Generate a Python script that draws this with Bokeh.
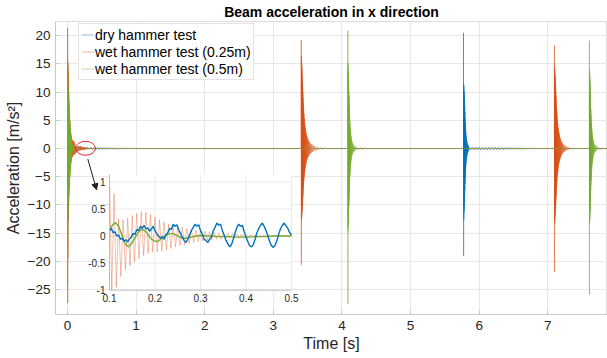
import numpy as np
from bokeh.plotting import figure
from bokeh.models import Range1d, Legend, LegendItem, Arrow, NormalHead, FixedTicker
from bokeh.core.properties import value
from bokeh.embed import file_html
from bokeh.resources import INLINE

# ---------------- data ----------------
series_names = ["dry hammer test", "wet hammer test (0.25m)", "wet hammer test (0.5m)"]
series_colors = ["#0072BD", "#D95319", "#77AC30"]

x_ticks = [0, 1, 2, 3, 4, 5, 6, 7, 8]
y_ticks = [-25, -20, -15, -10, -5, 0, 5, 10, 15, 20]
inset_x_ticks = [0.1, 0.2, 0.3, 0.4, 0.5]
inset_x_labels = ["0.1", "0.2", "0.3", "0.4", "0.5"]
inset_y_ticks = [-1, -0.5, 0, 0.5, 1]
inset_y_labels = ["-1", "-0.5", "0", "0.5", "1"]

# dry hammer test (blue): (time, value)
dry_start = [(0.000, 0.0), (0.005, 0.12), (0.029, -0.10), (0.053, 0.12), (0.077, -0.08)]
dry_inset = [(0.100, 0.10), (0.104, 0.14), (0.108, 0.06), (0.112, 0.08), (0.116, 0.00), (0.120, 0.02),
             (0.124, -0.06), (0.128, -0.04), (0.132, -0.10), (0.136, -0.07), (0.140, -0.11), (0.144, -0.05),
             (0.148, -0.02), (0.152, 0.05), (0.156, 0.03), (0.160, 0.12), (0.164, 0.10), (0.168, 0.18),
             (0.172, 0.14), (0.176, 0.20), (0.180, 0.13), (0.184, 0.15), (0.188, 0.09), (0.192, 0.13),
             (0.196, 0.18), (0.200, 0.10), (0.204, 0.04), (0.208, 0.00), (0.212, -0.04), (0.216, -0.01),
             (0.220, -0.06), (0.224, 0.02), (0.228, 0.06), (0.232, 0.14), (0.236, 0.12), (0.240, 0.22),
             (0.244, 0.18), (0.248, 0.21), (0.252, 0.12), (0.256, 0.05), (0.260, -0.02), (0.264, -0.08),
             (0.268, -0.12), (0.272, -0.06), (0.276, 0.02), (0.280, 0.10), (0.284, 0.16), (0.288, 0.22),
             (0.292, 0.18), (0.296, 0.21), (0.300, 0.10), (0.304, 0.04), (0.308, -0.06), (0.312, -0.08),
             (0.316, -0.12), (0.320, -0.06), (0.324, -0.02), (0.328, 0.10), (0.332, 0.16), (0.336, 0.24),
             (0.340, 0.20), (0.344, 0.22), (0.348, 0.10), (0.352, 0.02), (0.356, -0.08), (0.360, -0.14),
             (0.364, -0.20), (0.368, -0.16), (0.372, -0.06), (0.376, 0.06), (0.380, 0.16), (0.384, 0.22),
             (0.388, 0.18), (0.392, 0.20), (0.396, 0.08), (0.400, -0.02), (0.404, -0.10), (0.408, -0.18),
             (0.412, -0.20), (0.416, -0.16), (0.420, -0.06), (0.424, 0.06), (0.428, 0.14), (0.432, 0.20),
             (0.436, 0.24), (0.440, 0.18), (0.444, 0.10), (0.448, 0.00), (0.452, -0.10), (0.456, -0.18),
             (0.460, -0.21), (0.464, -0.17), (0.468, -0.08), (0.472, 0.04), (0.476, 0.14), (0.480, 0.20),
             (0.484, 0.24), (0.488, 0.19), (0.492, 0.14), (0.496, 0.06), (0.500, 0.02)]
dry_after = [(0.508, -0.18), (0.532, 0.20), (0.556, -0.18), (0.580, 0.19), (0.604, -0.17), (0.628, 0.18),
             (0.652, -0.16), (0.676, 0.17), (0.700, -0.15), (0.724, 0.15), (0.748, -0.14), (0.772, 0.14),
             (0.796, -0.12), (0.820, 0.12), (0.844, -0.10), (0.868, 0.10), (0.892, -0.08), (0.916, 0.08),
             (0.940, -0.05), (0.964, 0.04), (1.000, 0.0)]
dry_spike = [(5.7700, 0.0), (5.7715, 20.5), (5.7730, -19.0), (5.7745, 11.4), (5.7760, -12.7), (5.7775, 11.0),
             (5.7790, -11.5), (5.7805, 10.2), (5.7820, -10.8), (5.7835, 9.5), (5.7850, -9.6), (5.7865, 8.6),
             (5.7880, -8.5), (5.7895, 7.5), (5.7910, -7.4), (5.7925, 6.5), (5.7940, -6.3), (5.7955, 5.4),
             (5.7970, -5.2), (5.7985, 4.5), (5.8000, -4.3), (5.8020, 3.6), (5.8040, -3.5), (5.8060, 2.9),
             (5.8080, -2.8), (5.8100, 2.3), (5.8120, -2.2), (5.8145, 1.8), (5.8170, -1.7), (5.8195, 1.4),
             (5.8220, -1.3), (5.8250, 1.1), (5.8280, -1.0), (5.8310, 0.8), (5.8340, -0.75), (5.8370, 0.6),
             (5.8400, -0.55), (5.8430, 0.45), (5.8460, -0.4)]
dry_ring = [(5.852, 0.30), (5.876, -0.25), (5.900, 0.28), (5.924, -0.26), (5.948, 0.27), (5.972, -0.25),
            (5.996, 0.27), (6.020, -0.26), (6.044, 0.26), (6.068, -0.25), (6.092, 0.26), (6.116, -0.24),
            (6.140, 0.25), (6.164, -0.24), (6.188, 0.25), (6.212, -0.23), (6.236, 0.24), (6.260, -0.23),
            (6.284, 0.23), (6.308, -0.22), (6.332, 0.22), (6.356, -0.21), (6.380, 0.21), (6.404, -0.20),
            (6.428, 0.20), (6.452, -0.19), (6.476, 0.19), (6.500, -0.18), (6.524, 0.18), (6.548, -0.17),
            (6.572, 0.17), (6.596, -0.16), (6.620, 0.16), (6.644, -0.15), (6.668, 0.14), (6.692, -0.13),
            (6.716, 0.12), (6.740, -0.11), (6.764, 0.10), (6.788, -0.08), (6.812, 0.07), (6.836, -0.05),
            (6.860, 0.04), (6.900, 0.0), (7.870, 0.0)]

# wet hammer test 0.25 m (orange)
w25_spike0 = [(0.0000, 0.0), (0.0015, 21.4), (0.0030, -27.4), (0.0045, 15.5), (0.0060, -19.5), (0.0075, 14.8),
              (0.0090, -13.0), (0.0105, 13.6), (0.0120, -12.2), (0.0135, 12.4), (0.0150, -11.0), (0.0165, 11.0),
              (0.0180, -9.8), (0.0195, 9.6), (0.0210, -8.5), (0.0225, 8.3), (0.0240, -7.3), (0.0260, 7.0),
              (0.0280, -6.2), (0.0300, 5.8), (0.0320, -5.1), (0.0340, 4.8), (0.0360, -4.2), (0.0385, 3.9),
              (0.0410, -3.5), (0.0435, 3.2), (0.0460, -2.9), (0.0485, 2.7), (0.0510, -2.4), (0.0540, 2.2),
              (0.0570, -2.0), (0.0600, 1.9), (0.0630, -1.7), (0.0660, 1.6), (0.0690, -1.5), (0.0720, 1.45),
              (0.0750, -1.35), (0.0780, 1.3), (0.0810, -1.25), (0.0845, 1.2), (0.0880, -1.15), (0.0915, 1.2),
              (0.0950, -1.1)]
w25_inset = [(0.100, 1.25), (0.105, -1.00), (0.110, 0.78), (0.115, -0.95), (0.120, 0.32), (0.125, -0.75),
             (0.130, 0.30), (0.135, -0.62), (0.140, 0.33), (0.145, -0.55), (0.150, 0.38), (0.155, -0.48),
             (0.160, 0.42), (0.165, -0.42), (0.170, 0.45), (0.175, -0.36), (0.180, 0.44), (0.185, -0.32),
             (0.190, 0.40), (0.195, -0.30), (0.200, 0.35), (0.205, -0.29), (0.210, 0.30), (0.215, -0.28),
             (0.220, 0.26), (0.225, -0.26), (0.230, 0.22), (0.235, -0.23), (0.240, 0.20), (0.245, -0.20),
             (0.250, 0.18), (0.255, -0.18), (0.260, 0.16), (0.265, -0.16), (0.270, 0.14), (0.275, -0.14),
             (0.280, 0.12), (0.285, -0.12), (0.290, 0.11), (0.295, -0.10), (0.300, 0.10), (0.305, -0.09),
             (0.310, 0.09), (0.315, -0.08), (0.320, 0.08), (0.325, -0.07), (0.330, 0.07), (0.335, -0.06),
             (0.340, 0.06), (0.345, -0.06), (0.350, 0.05), (0.355, -0.05), (0.360, 0.05), (0.365, -0.04),
             (0.370, 0.05), (0.375, -0.04), (0.380, 0.04), (0.385, -0.04), (0.390, 0.04), (0.395, -0.03),
             (0.400, 0.03), (0.405, -0.03), (0.410, 0.03), (0.415, -0.03), (0.420, 0.03), (0.425, -0.025),
             (0.430, 0.025), (0.435, -0.02), (0.440, 0.02), (0.445, -0.02), (0.450, 0.02), (0.455, -0.015),
             (0.460, 0.015), (0.465, -0.015), (0.470, 0.015), (0.475, -0.01), (0.480, 0.01), (0.485, -0.01),
             (0.490, 0.01), (0.495, -0.01), (0.500, 0.01)]
w25_tail = [(0.520, -0.01), (0.560, 0.01), (0.600, 0.0)]
w25_spike1 = [(3.4050, 0.0), (3.4065, 19.2), (3.4080, -20.6), (3.4095, 16.4), (3.4110, -12.7), (3.4125, 15.6),
              (3.4140, -12.2), (3.4155, 14.8), (3.4170, -11.6), (3.4185, 14.0), (3.4200, -11.0), (3.4215, 13.0),
              (3.4230, -10.3), (3.4245, 12.0), (3.4260, -9.6), (3.4275, 11.0), (3.4290, -8.9), (3.4305, 10.0),
              (3.4320, -8.2), (3.4340, 9.0), (3.4360, -7.4), (3.4380, 8.0), (3.4400, -6.6), (3.4420, 7.1),
              (3.4440, -5.9), (3.4465, 6.2), (3.4490, -5.2), (3.4515, 5.4), (3.4540, -4.6), (3.4565, 4.7),
              (3.4590, -4.0), (3.4620, 4.1), (3.4650, -3.5), (3.4680, 3.6), (3.4710, -3.1), (3.4740, 3.1),
              (3.4770, -2.7), (3.4805, 2.7), (3.4840, -2.3), (3.4875, 2.3), (3.4910, -2.0), (3.4950, 2.0),
              (3.4990, -1.7), (3.5030, 1.7), (3.5070, -1.5), (3.5120, 1.4), (3.5170, -1.25), (3.5220, 1.2),
              (3.5270, -1.05), (3.5330, 1.0), (3.5390, -0.9), (3.5460, 0.85), (3.5530, -0.75), (3.5610, 0.7),
              (3.5690, -0.6), (3.5800, 0.55), (3.5910, -0.48), (3.6050, 0.42), (3.6200, -0.36), (3.6400, 0.3),
              (3.6600, -0.25), (3.6850, 0.18), (3.7100, -0.12), (3.7400, 0.06), (3.7700, 0.0)]
w25_spike2 = [(7.0950, 0.0), (7.0965, 18.3), (7.0980, -21.8), (7.0995, 14.6), (7.1010, -13.2), (7.1025, 14.0),
              (7.1040, -12.6), (7.1055, 13.4), (7.1070, -12.0), (7.1085, 12.6), (7.1100, -11.3), (7.1115, 11.8),
              (7.1130, -10.6), (7.1145, 11.0), (7.1160, -9.8), (7.1175, 10.1), (7.1190, -9.0), (7.1205, 9.2),
              (7.1220, -8.2), (7.1240, 8.2), (7.1260, -7.3), (7.1280, 7.3), (7.1300, -6.5), (7.1320, 6.5),
              (7.1340, -5.8), (7.1365, 5.7), (7.1390, -5.0), (7.1415, 5.0), (7.1440, -4.4), (7.1465, 4.3),
              (7.1490, -3.8), (7.1520, 3.7), (7.1550, -3.3), (7.1580, 3.2), (7.1610, -2.8), (7.1640, 2.8),
              (7.1670, -2.4), (7.1705, 2.4), (7.1740, -2.1), (7.1775, 2.0), (7.1810, -1.8), (7.1850, 1.7),
              (7.1890, -1.5), (7.1930, 1.4), (7.1970, -1.25), (7.2020, 1.15), (7.2070, -1.0), (7.2120, 0.95),
              (7.2170, -0.85), (7.2230, 0.78), (7.2290, -0.7), (7.2360, 0.62), (7.2430, -0.55), (7.2510, 0.48),
              (7.2590, -0.42), (7.2700, 0.36), (7.2810, -0.3), (7.2950, 0.25), (7.3100, -0.2), (7.3300, 0.16),
              (7.3500, -0.12), (7.3750, 0.08), (7.4000, -0.05), (7.4300, 0.02), (7.4600, 0.0), (7.8700, 0.0)]

# wet hammer test 0.5 m (green)
w50_spike0 = [(0.0000, 0.0), (0.0010, 20.3), (0.0020, -24.0), (0.0030, 15.0), (0.0040, -16.5), (0.0050, 12.0),
              (0.0060, -12.5), (0.0070, 10.5), (0.0080, -10.8), (0.0090, 9.6), (0.0100, -9.8), (0.0110, 9.2),
              (0.0120, -9.0), (0.0130, 8.8), (0.0140, -8.5), (0.0150, 8.4), (0.0160, -8.0), (0.0170, 8.0),
              (0.0180, -7.6), (0.0190, 7.5), (0.0200, -7.2), (0.0215, 7.0), (0.0230, -6.8), (0.0245, 6.5),
              (0.0260, -6.3), (0.0275, 6.0), (0.0290, -5.8), (0.0305, 5.6), (0.0320, -5.4), (0.0335, 5.1),
              (0.0350, -4.9), (0.0365, 4.6), (0.0380, -4.4), (0.0395, 4.1), (0.0410, -3.9), (0.0425, 3.6),
              (0.0440, -3.4), (0.0455, 3.1), (0.0470, -2.9), (0.0485, 2.6), (0.0500, -2.4), (0.0520, 2.1),
              (0.0540, -1.9), (0.0560, 1.7), (0.0580, -1.5), (0.0600, 1.3), (0.0620, -1.1), (0.0645, 0.95),
              (0.0670, -0.8), (0.0695, 0.7), (0.0720, -0.55), (0.0750, 0.5), (0.0780, -0.35), (0.0810, 0.35),
              (0.0840, -0.2), (0.0870, 0.25), (0.0900, -0.1), (0.0930, 0.18), (0.0960, 0.05)]
w50_inset = [(0.100, 0.10), (0.106, 0.20), (0.113, 0.25), (0.120, 0.18), (0.128, 0.00), (0.135, -0.15),
             (0.142, -0.20), (0.150, -0.12), (0.158, 0.00), (0.166, 0.10), (0.174, 0.12), (0.182, 0.06),
             (0.190, -0.04), (0.198, -0.09), (0.206, -0.10), (0.214, -0.05), (0.222, 0.01), (0.230, 0.04),
             (0.238, 0.05), (0.246, 0.02), (0.254, -0.02), (0.262, -0.04), (0.270, -0.04), (0.280, -0.02),
             (0.290, 0.00), (0.300, 0.01), (0.320, 0.00), (0.340, -0.01), (0.360, -0.01), (0.380, -0.02),
             (0.400, -0.02), (0.420, -0.01), (0.440, -0.01), (0.460, 0.00), (0.480, 0.00), (0.500, 0.00)]
w50_spike1 = [(4.0850, 0.0), (4.0860, 20.9), (4.0870, -27.5), (4.0880, 15.2), (4.0890, -14.6), (4.0900, 14.4),
              (4.0910, -14.0), (4.0920, 13.6), (4.0930, -13.2), (4.0940, 12.8), (4.0950, -12.4), (4.0960, 12.0),
              (4.0970, -11.6), (4.0980, 11.1), (4.0990, -10.7), (4.1000, 10.2), (4.1010, -9.8), (4.1020, 9.3),
              (4.1030, -8.9), (4.1045, 8.3), (4.1060, -7.9), (4.1075, 7.3), (4.1090, -6.9), (4.1105, 6.3),
              (4.1120, -5.9), (4.1140, 5.3), (4.1160, -4.9), (4.1180, 4.4), (4.1200, -4.0), (4.1225, 3.6),
              (4.1250, -3.2), (4.1275, 2.9), (4.1300, -2.6), (4.1330, 2.3), (4.1360, -2.0), (4.1390, 1.8),
              (4.1420, -1.55), (4.1460, 1.35), (4.1500, -1.15), (4.1540, 1.0), (4.1580, -0.85), (4.1630, 0.75),
              (4.1680, -0.62), (4.1740, 0.55), (4.1800, -0.45), (4.1870, 0.42), (4.1950, -0.38), (4.2100, 0.3),
              (4.2400, -0.26), (4.2700, 0.2), (4.3000, -0.15), (4.3300, 0.1), (4.3600, -0.06), (4.3900, 0.03),
              (4.4200, 0.0)]
w50_spike2 = [(7.6050, 0.0), (7.6060, 19.1), (7.6070, -25.9), (7.6080, 14.0), (7.6090, -13.4), (7.6100, 13.4),
              (7.6110, -12.9), (7.6120, 12.8), (7.6130, -12.3), (7.6140, 12.1), (7.6150, -11.6), (7.6160, 11.3),
              (7.6170, -10.8), (7.6180, 10.5), (7.6190, -10.0), (7.6200, 9.6), (7.6210, -9.2), (7.6220, 8.7),
              (7.6230, -8.3), (7.6245, 7.8), (7.6260, -7.4), (7.6275, 6.9), (7.6290, -6.5), (7.6305, 6.0),
              (7.6320, -5.6), (7.6340, 5.1), (7.6360, -4.7), (7.6380, 4.3), (7.6400, -3.9), (7.6425, 3.5),
              (7.6450, -3.1), (7.6475, 2.8), (7.6500, -2.5), (7.6530, 2.2), (7.6560, -1.95), (7.6590, 1.7),
              (7.6620, -1.5), (7.6660, 1.3), (7.6700, -1.1), (7.6740, 0.95), (7.6780, -0.82), (7.6830, 0.72),
              (7.6880, -0.6), (7.6940, 0.52), (7.7000, -0.45), (7.7070, 0.4), (7.7150, -0.35), (7.7300, 0.3),
              (7.7600, -0.24), (7.7900, 0.18), (7.8200, -0.12), (7.8500, 0.08), (7.8700, 0.0)]


def unzip(*segments):
    pts = [pt for seg in segments for pt in seg]
    return np.array([a for a, _ in pts]), np.array([b for _, b in pts])


dry_t, dry_v = unzip(dry_start, dry_inset, dry_after, dry_spike, dry_ring)
w25_t, w25_v = unzip(w25_spike0, w25_inset, w25_tail, w25_spike1, w25_spike2)
w50_t, w50_v = unzip(w50_spike0, w50_inset, w50_spike1, w50_spike2)
all_series = [(dry_t, dry_v), (w25_t, w25_v), (w50_t, w50_v)]

# ---------------- layout (pixels) ----------------
W, H = 607, 358
FL, FR, FT, FB = 55, 607, 20, 314          # main frame
IL, IR, IT, IB = 109, 291, 174, 289.5      # inset frame
X0, X1 = -0.175, 7.87
Y0, Y1 = -29.4, 22.5
IX0, IX1 = 0.1, 0.5
IY0, IY1 = -1.0, 1.13
FONT = "Liberation Sans"
TXT = "#262626"

p = figure(width=W, height=H, output_backend="svg", toolbar_location=None,
           x_range=Range1d(X0, X1), y_range=Range1d(Y0, Y1),
           min_border_left=FL, min_border_right=W - FR, min_border_top=FT, min_border_bottom=H - FB,
           background_fill_color="white", border_fill_color="white")

p.title.text = "Beam acceleration in x direction"
p.title.text_font = FONT
p.title.text_font_size = "14px"
p.title.text_font_style = "bold"
p.title.text_color = "#000000"
p.title.align = "center"
p.title.standoff = 3

p.xaxis.ticker = FixedTicker(ticks=x_ticks)
p.yaxis.ticker = FixedTicker(ticks=y_ticks)
p.xaxis.axis_label = "Time [s]"
p.yaxis.axis_label = "Acceleration [m/s\u00b2]"
for ax in (p.xaxis[0], p.yaxis[0]):
    ax.axis_label_text_font = FONT
    ax.axis_label_text_font_size = "16px"
    ax.axis_label_text_font_style = "normal"
    ax.axis_label_text_color = TXT
    ax.major_label_text_font = FONT
    ax.major_label_text_font_size = "13.5px"
    ax.major_label_text_color = TXT
    ax.axis_line_color = "#c8c8c8"
    ax.major_tick_line_color = "#c8c8c8"
    ax.major_tick_in = 4
    ax.major_tick_out = 0
    ax.minor_tick_line_color = None
p.xaxis.major_label_standoff = 6
p.xaxis.axis_label_standoff = 2
p.yaxis.major_label_standoff = 5
p.yaxis.axis_label_standoff = 3
p.grid.grid_line_color = "#e8e8e8"
p.outline_line_color = "#dcdcdc"

for (t, v), c in zip(all_series, series_colors):
    p.line(t, v, line_color=c, line_width=0.5)

# legend samples (thin, faint strokes as in the reference); they hold no visible points
legend_samples = [p.line([np.nan], [np.nan], line_color=c, line_width=1, line_alpha=0.45) for c in series_colors]
legend = Legend(items=[LegendItem(label=n, renderers=[r]) for n, r in zip(series_names, legend_samples)],
                location=(23, 234), label_text_font=FONT, label_text_font_size="14px",
                label_text_color="#000000", glyph_width=13, glyph_height=17, label_height=17,
                label_standoff=1, spacing=0, padding=2, margin=0,
                border_line_color="#c8c8c8", background_fill_color="white", background_fill_alpha=1)
p.add_layout(legend)

# ---------------- inset (own ranges, mapped onto the inset rectangle) ----------------
sx = (IX1 - IX0) / (IR - IL)
sy = (IY1 - IY0) / (IB - IT)
p.extra_x_ranges = {"ix": Range1d(IX0 - (IL - FL) * sx, IX1 + (FR - IR) * sx)}
p.extra_y_ranges = {"iy": Range1d(IY0 - (FB - IB) * sy, IY1 + (IT - FT) * sy)}
kw = dict(x_range_name="ix", y_range_name="iy")

p.quad(left=[IX0], right=[IX1], bottom=[IY0], top=[IY1], fill_color="white", line_color=None, **kw)
p.segment(x0=inset_x_ticks, x1=inset_x_ticks, y0=[IY0] * 5, y1=[IY1] * 5, line_color="#ebebeb", line_width=1, **kw)
p.segment(x0=[IX0] * 5, x1=[IX1] * 5, y0=inset_y_ticks, y1=inset_y_ticks, line_color="#ebebeb", line_width=1, **kw)

inset_style = {0: dict(line_width=1.4, line_alpha=1.0), 1: dict(line_width=0.6, line_alpha=0.6),
               2: dict(line_width=1.4, line_alpha=1.0)}
for i in (1, 2, 0):
    t, v = all_series[i]
    m = (t >= IX0) & (t <= IX1)
    p.line(t[m], np.clip(v[m], IY0, IY1), line_color=series_colors[i], **inset_style[i], **kw)

p.segment(x0=[IX0, IX0], x1=[IX0, IX1], y0=[IY0, IY0], y1=[IY1, IY0], line_color="#bdbdbd", line_width=1, **kw)
p.text(x=inset_x_ticks, y=[IY0] * 5, text=inset_x_labels, text_font=value(FONT), text_font_size="10px",
       text_color=TXT, text_align="center", text_baseline="top", y_offset=4, **kw)
p.text(x=[IX0] * 5, y=inset_y_ticks, text=inset_y_labels, text_font=value(FONT), text_font_size="10px",
       text_color=TXT, text_align="right", text_baseline="middle", x_offset=-4, **kw)

# highlight ellipse and arrow
p.ellipse(x=[0.262], y=[0.05], width=0.29, height=2.47, fill_color=None, line_color="#e8262a", line_width=1)
p.add_layout(Arrow(end=NormalHead(size=6, line_color="#222222", fill_color="#222222"),
                   x_start=0.296, y_start=-1.87, x_end=0.423, y_end=-7.3,
                   line_color="#222222", line_width=1))

open("out.html", "w").write(file_html(p, INLINE))
